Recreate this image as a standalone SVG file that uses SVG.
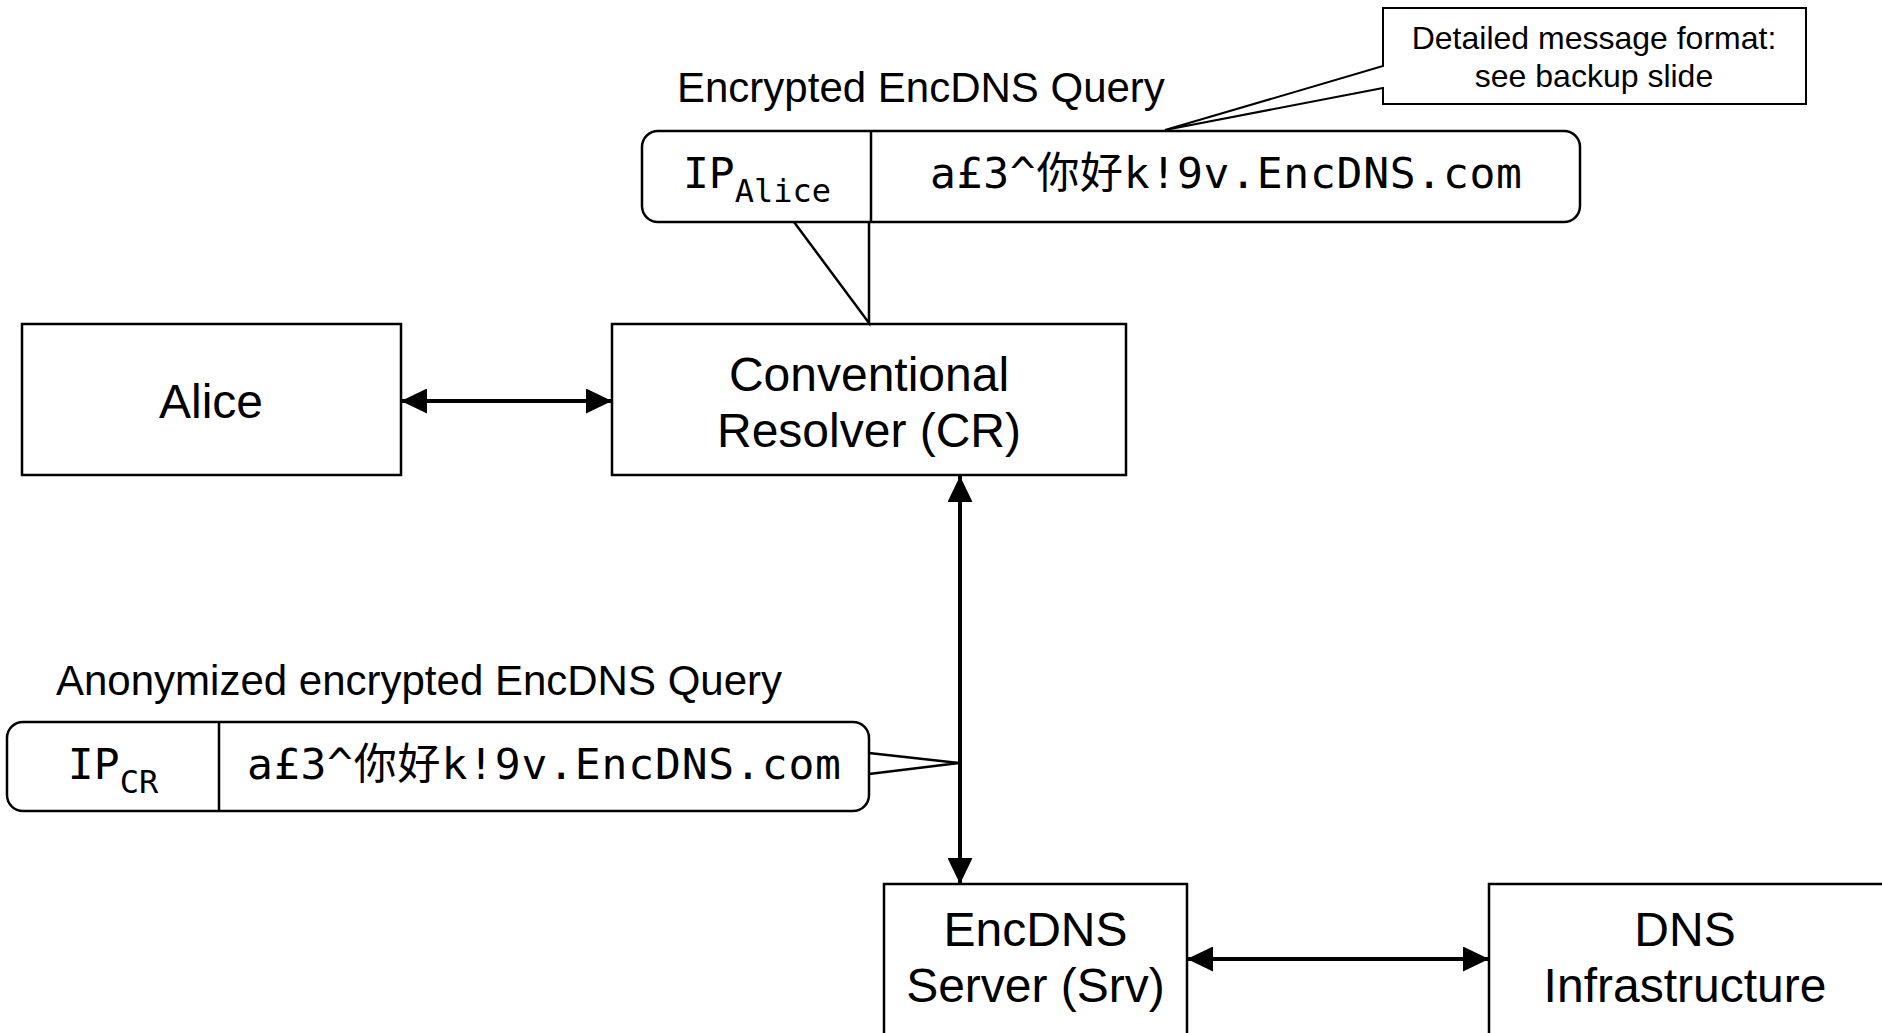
<svg xmlns="http://www.w3.org/2000/svg" width="1882" height="1033" viewBox="0 0 1882 1033">
<defs>
<style>
.box{fill:#fff;stroke:#000;stroke-width:2.5}
.msg{fill:#fff;stroke:#000;stroke-width:2.5}
.thin{fill:none;stroke:#000;stroke-width:2.5}
.conn{fill:none;stroke:#000;stroke-width:4}
.lbl{font-family:"Liberation Sans",Arial,sans-serif;font-size:48px;fill:#000;text-anchor:middle}
.cap{font-family:"Liberation Sans",Arial,sans-serif;font-size:42px;fill:#000}
.note{font-family:"Liberation Sans",Arial,sans-serif;font-size:32px;fill:#000;text-anchor:middle}
.mono{font-family:"DejaVu Sans Mono","Noto Sans CJK SC",monospace;font-size:43px;fill:#000;text-anchor:middle}
.sub{font-size:32px}
</style>
<marker id="ah" markerUnits="userSpaceOnUse" viewBox="0 0 26 25" markerWidth="26" markerHeight="25" refX="26" refY="12.5" orient="auto-start-reverse">
<path d="M0,0 L26,12.5 L0,25 z" fill="#000"/>
</marker>
</defs>
<rect width="1882" height="1033" fill="#fff"/>

<g id="connectors">
<line class="conn" x1="401" y1="401" x2="612" y2="401" marker-start="url(#ah)" marker-end="url(#ah)"/>
<line class="conn" x1="960" y1="476" x2="960" y2="884" marker-start="url(#ah)" marker-end="url(#ah)"/>
<line class="conn" x1="1187" y1="959" x2="1489" y2="959" marker-start="url(#ah)" marker-end="url(#ah)"/>
</g>

<g id="alice">
<rect class="box" x="22" y="324" width="379" height="151"/>
<text class="lbl" x="211" y="418">Alice</text>
</g>

<g id="cr">
<rect class="box" x="612" y="324" width="514" height="151"/>
<text class="lbl" x="869" y="391">Conventional</text>
<text class="lbl" x="869" y="447">Resolver (CR)</text>
</g>

<g id="srv">
<rect class="box" x="884" y="884" width="303" height="160"/>
<text class="lbl" x="1035.5" y="946">EncDNS</text>
<text class="lbl" x="1035.5" y="1002">Server (Srv)</text>
</g>

<g id="dns">
<rect class="box" x="1489" y="884" width="400" height="160"/>
<text class="lbl" x="1685" y="946">DNS</text>
<text class="lbl" x="1685" y="1002">Infrastructure</text>
</g>

<g id="query-encrypted">
<text class="cap" x="677" y="102">Encrypted EncDNS Query</text>
<path class="thin" d="M794,222 L869,323 L869,222"/>
<rect class="msg" x="642" y="131" width="938" height="91" rx="16" ry="16"/>
<line class="thin" x1="871" y1="131" x2="871" y2="222"/>
<text class="mono" x="757" y="188">IP<tspan class="sub" dy="14">Alice</tspan></text>
<text class="mono" x="1226" y="188" textLength="592" lengthAdjust="spacing">a£3^你好k!9v.EncDNS.com</text>
</g>

<g id="note-format">
<path d="M1383,66 L1383,8 L1806,8 L1806,104 L1383,104 L1383,88 L1165,130 Z" fill="#fff" stroke="#000" stroke-width="2"/>
<text class="note" x="1594" y="49">Detailed message format:</text>
<text class="note" x="1594" y="87">see backup slide</text>
</g>

<g id="query-anonymized">
<text class="cap" x="56" y="695">Anonymized encrypted EncDNS Query</text>
<path class="thin" d="M869,753 L959,763 L869,774"/>
<rect class="msg" x="7" y="722" width="862" height="89" rx="16" ry="16"/>
<line class="thin" x1="219" y1="722" x2="219" y2="811"/>
<text class="mono" x="113" y="779">IP<tspan class="sub" dy="14">CR</tspan></text>
<text class="mono" x="544" y="779" textLength="594" lengthAdjust="spacing">a£3^你好k!9v.EncDNS.com</text>
</g>
</svg>
